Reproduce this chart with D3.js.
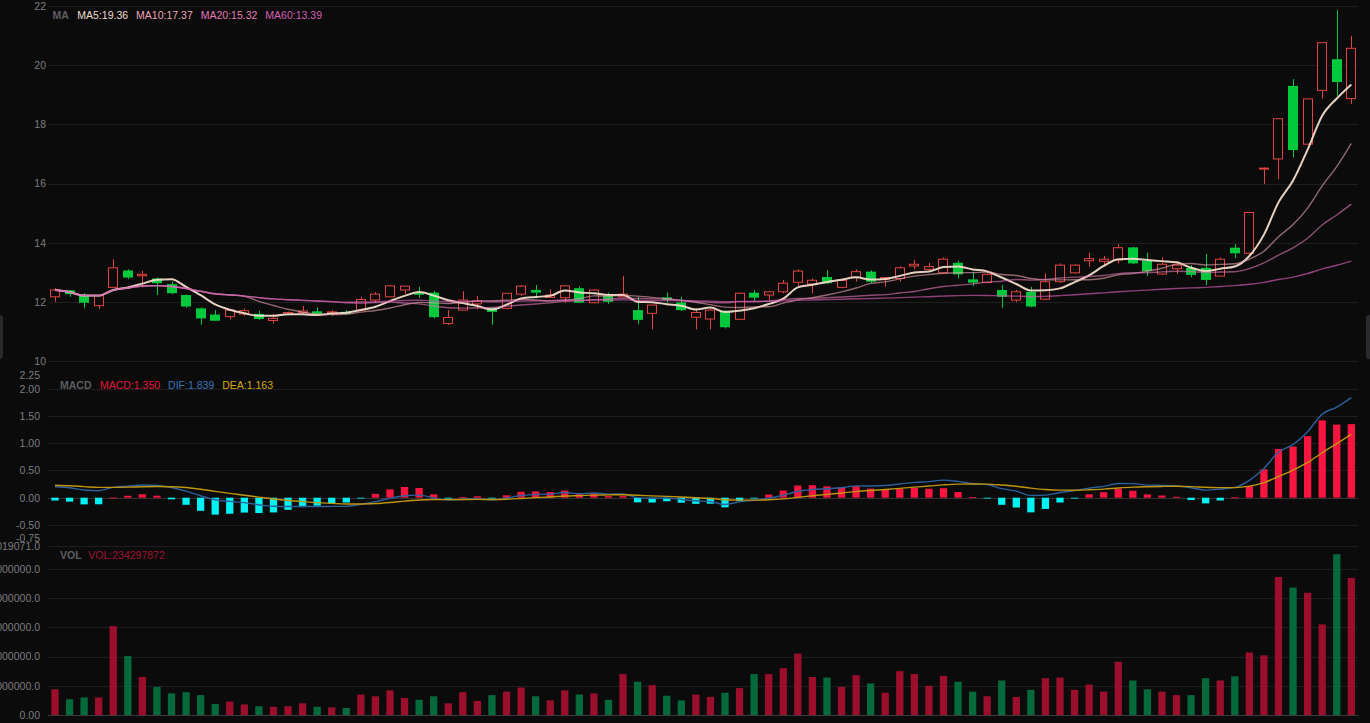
<!DOCTYPE html>
<html><head><meta charset="utf-8">
<script src="https://cdn.jsdelivr.net/npm/d3@7/dist/d3.min.js"></script>
<style>html,body{margin:0;padding:0;background:#0b0b0b;overflow:hidden}svg{display:block}</style>
</head><body><svg id="c" width="1370" height="723"></svg>
<script>
// ---- data ----
const opens  = [12.17,12.39,12.23,11.87,12.49,13.06,12.88,12.79,12.60,12.23,11.78,11.57,11.50,11.59,11.59,11.37,11.57,11.64,11.68,11.62,11.66,11.72,12.06,12.17,12.40,12.31,12.31,11.27,11.72,11.93,11.80,11.78,12.26,12.40,12.15,12.14,12.46,11.97,12.20,12.17,11.72,11.61,12.15,11.98,11.48,11.42,11.69,11.41,12.31,12.23,12.34,12.66,12.60,12.84,12.49,12.83,13.02,12.76,12.79,13.21,13.10,12.98,13.32,12.76,12.65,12.40,12.06,12.34,12.09,12.68,12.98,13.39,13.37,13.41,13.84,13.39,12.94,13.12,13.15,13.15,12.87,13.83,13.64,16.50,16.83,19.30,17.33,19.15,20.20,18.87];
const highs  = [12.46,12.40,12.29,12.22,13.44,13.10,13.05,12.82,12.68,12.25,11.81,11.72,11.72,11.78,11.70,11.59,11.67,11.86,11.81,11.72,11.72,12.17,12.33,12.57,12.53,12.51,12.36,11.72,12.36,12.20,11.80,12.30,12.57,12.57,12.42,12.56,12.52,12.42,12.31,12.87,12.17,11.89,12.31,12.17,11.78,11.76,11.72,12.31,12.40,12.37,12.74,13.10,12.79,13.07,12.76,13.10,13.07,12.82,13.21,13.41,13.32,13.50,13.39,13.02,12.96,12.57,12.40,12.51,12.96,13.30,13.27,13.66,13.55,13.95,13.86,13.66,13.50,13.36,13.24,13.62,13.50,13.95,15.02,16.55,18.20,19.53,18.86,20.76,21.86,20.99];
const lows   = [12.00,12.17,11.78,11.76,12.47,12.78,12.49,12.23,12.26,11.80,11.22,11.36,11.41,11.53,11.39,11.27,11.55,11.61,11.59,11.52,11.57,11.69,11.97,12.17,12.26,12.14,11.44,11.22,11.72,11.75,11.22,11.75,12.20,12.12,12.15,11.97,11.95,11.95,11.93,12.17,11.24,11.07,11.97,11.69,11.07,11.07,11.10,11.39,12.04,12.06,12.29,12.51,12.29,12.60,12.46,12.68,12.63,12.51,12.68,13.10,13.05,12.96,12.79,12.53,12.63,11.80,11.99,11.82,12.06,12.63,12.96,13.19,13.19,13.30,13.28,12.87,12.91,12.94,12.83,12.57,12.87,13.47,13.58,15.98,16.15,16.88,17.33,18.87,18.97,18.69];
const closes = [12.40,12.26,11.97,12.21,13.15,12.82,12.93,12.63,12.29,11.84,11.44,11.36,11.72,11.70,11.42,11.44,11.64,11.69,11.59,11.66,11.59,12.08,12.26,12.54,12.53,12.24,11.48,11.47,12.06,12.03,11.66,12.29,12.53,12.31,12.23,12.54,11.97,12.40,12.00,12.26,11.39,11.89,12.06,11.72,11.64,11.72,11.14,12.29,12.14,12.34,12.63,13.04,12.73,12.63,12.72,13.02,12.68,12.82,13.15,13.27,13.19,13.44,12.93,12.65,12.93,12.17,12.34,11.84,12.68,13.24,13.24,13.46,13.44,13.83,13.30,13.04,13.27,13.24,12.91,12.74,13.44,13.64,15.02,16.52,18.19,17.13,18.86,20.76,19.43,20.57];
const volumesM = [44,27,30,30,152,101,65,48,37,39,34,19,23,18,15,14,15,20,14,13,12,35,32,42,29,26,32,20,39,24,34,40,47,32,25,42,35,37,26,70,57,51,33,25,35,31,38,46,70,70,80,105,65,64,48,68,54,38,75,70,50,67,57,40,32,59,31,43,63,64,43,52,40,91,59,44,40,34,34,63,59,66,107,102,236,218,209,155,275,234.297872];

const priceTicks = [10,12,14,16,18,20,22];
const macdTicks = [-0.75,-0.5,0,0.5,1,1.5,2,2.25];
const macdTickLabels = ["-0.75","-0.50","0.00","0.50","1.00","1.50","2.00","2.25"];
const macdGridTicks = [-0.5,0,0.5,1,1.5,2];
const volTicks = [0,50000000,100000000,150000000,200000000,250000000,289019071];
const volTickLabels = ["0.00","50000000.0","100000000.0","150000000.0","200000000.0","250000000.0","289019071.0"];
const maPeriods = [5,10,20,60];
const maLegend = ["MA5:19.36","MA10:17.37","MA20:15.32","MA60:13.39"];
const macdLegend = ["MACD:1.350","DIF:1.839","DEA:1.163"];
const volLegend = ["VOL:234297872"];
const macdSeed = {ema12:12.30, ema26:12.09, dea:0.235};

// ---- styles ----
const BG="#0b0b0b", GRID="#1e1e20", AXIS_TXT="#7c7c80";
const UP="#e2443f", DOWN="#00c93c";
const VUP="#9c0f2c", VDOWN="#046a3b";
const MA_COLORS=["#f2dccb","#eda7b3","#e37ab6","#d65fb5"];
const MA_LINE_OP=[0.95,0.6,0.6,0.65];
const MA_W=[2,1.4,1.4,1.4];

const svg=d3.select("#c");
const N=closes.length;
const idx=d3.range(N);
const X0=47.7, X1=1358.6;
const x=d3.scaleBand().domain(idx).range([X0,X1]).padding(0);
const bw=x.bandwidth();
const cx=i=>x(i)+bw/2;

const yP=d3.scaleLinear().domain([10,22]).range([361,6]);
const yM=d3.scaleLinear().domain([-0.75,2.25]).range([538.5,375.3]);
const yV=d3.scaleLinear().domain([0,289019071]).range([715,546]);

svg.append("rect").attr("width",1370).attr("height",723).attr("fill",BG);

// grid
const g=svg.append("g");
function hgrid(scale,ticks,color){
  g.selectAll(null).data(ticks).enter().append("line")
   .attr("x1",48).attr("x2",1358)
   .attr("y1",d=>Math.round(scale(d))+0.5).attr("y2",d=>Math.round(scale(d))+0.5)
   .attr("stroke",color).attr("stroke-width",1);
}
hgrid(yP,priceTicks,GRID);
hgrid(yM,macdGridTicks,GRID);
hgrid(yV,volTicks.slice(1),GRID);
g.append("line").attr("x1",48).attr("x2",1358).attr("y1",Math.round(yV(0))+0.5).attr("y2",Math.round(yV(0))+0.5).attr("stroke","#3a3a3e");

// axes
const FONT="'Liberation Sans',Arial,sans-serif";
function axis(scale,ticks,labels,xr){
  const a=d3.axisLeft(scale).tickValues(ticks).tickSize(0).tickPadding(0)
    .tickFormat((d,i)=>labels[i]);
  const ag=svg.append("g").attr("transform",`translate(${xr},0)`).call(a);
  ag.select(".domain").remove();
  ag.selectAll("text").attr("fill",AXIS_TXT).attr("font-size","10.5px").attr("font-family",FONT);
}
axis(yP,priceTicks,priceTicks.map(String),46);
axis(yM,macdTicks,macdTickLabels,40);
axis(yV,volTicks,volTickLabels,40);

// ---- moving averages ----
function ma(p){return closes.map((c,i)=>{const s=Math.max(0,i-p+1);return d3.mean(closes.slice(s,i+1));});}
const maData=maPeriods.map(ma);
const line=d3.line().x((d,i)=>cx(i)).y(d=>yP(d)).curve(d3.curveMonotoneX);

// candles
const cg=svg.append("g");
const cw=Math.round(bw*0.7);
idx.forEach(i=>{
  const o=opens[i],c=closes[i],h=highs[i],l=lows[i];
  const up=c>=o;
  const xm=Math.round(cx(i))+0.5;
  const top=yP(Math.max(o,c)), bot=yP(Math.min(o,c));
  const bh=Math.max(1,bot-top);
  if(up){
    cg.append("line").attr("x1",xm).attr("x2",xm).attr("y1",yP(h)).attr("y2",top).attr("stroke",UP);
    cg.append("line").attr("x1",xm).attr("x2",xm).attr("y1",top+bh).attr("y2",yP(l)).attr("stroke",UP);
    cg.append("rect").attr("x",Math.round(cx(i)-cw/2)+0.5).attr("y",top).attr("width",cw-1).attr("height",bh)
      .attr("fill",BG).attr("stroke",UP).attr("stroke-width",1);
  }else{
    cg.append("line").attr("x1",xm).attr("x2",xm).attr("y1",yP(h)).attr("y2",yP(l)).attr("stroke",DOWN);
    cg.append("rect").attr("x",Math.round(cx(i)-cw/2)).attr("y",top).attr("width",cw).attr("height",bh).attr("fill",DOWN);
  }
});

maData.forEach((d,k)=>{
  svg.append("path").attr("d",line(d)).attr("fill","none").attr("stroke",MA_COLORS[k])
   .attr("stroke-width",MA_W[k]).attr("stroke-opacity",MA_LINE_OP[k]);
});

// ---- MACD ----
let e12=macdSeed.ema12,e26=macdSeed.ema26,dea=macdSeed.dea;
const dif=[],deaA=[],hist=[];
closes.forEach(c=>{
  e12=e12+(2/13)*(c-e12); e26=e26+(2/27)*(c-e26);
  const d=e12-e26; dea=dea+0.2*(d-dea);
  dif.push(d); deaA.push(dea); hist.push(2*(d-dea));
});
const mbw=bw*0.5;
svg.append("line").attr("x1",48).attr("x2",1358).attr("y1",Math.round(yM(0))+0.5).attr("y2",Math.round(yM(0))+0.5).attr("stroke","#303034");
svg.append("g").selectAll("rect").data(hist).enter().append("rect")
  .attr("x",(d,i)=>cx(i)-mbw/2).attr("width",mbw)
  .attr("y",d=>d>=0?yM(d):yM(0)).attr("height",d=>Math.max(0.8,Math.abs(yM(d)-yM(0))))
  .attr("fill",d=>d>=0?"#fa1540":"#00f2f2");
const ml=d3.line().x((d,i)=>cx(i)).y(d=>yM(d)).curve(d3.curveMonotoneX);
svg.append("path").attr("d",ml(dif)).attr("fill","none").attr("stroke","#2c5f9c").attr("stroke-width",1.4);
svg.append("path").attr("d",ml(deaA)).attr("fill","none").attr("stroke","#bf9510").attr("stroke-width",1.4);

// ---- volume ----
svg.append("g").selectAll("rect").data(volumesM).enter().append("rect")
  .attr("x",(d,i)=>cx(i)-mbw/2).attr("width",mbw)
  .attr("y",d=>yV(d*1e6)).attr("height",d=>yV(0)-yV(d*1e6))
  .attr("fill",(d,i)=>closes[i]>=opens[i]?VUP:VDOWN);

// ---- legends ----
function legend(y,title,items,colors,firstX){
  const lg=svg.append("g").attr("font-family",FONT).attr("font-size","10.5px");
  lg.append("text").attr("x",title==="MA"?52.5:60).attr("y",y).attr("fill","#5d5d62").attr("font-weight","bold").text(title);
  let xx=firstX;
  items.forEach((t,k)=>{
    const tx=lg.append("text").attr("x",xx).attr("y",y).attr("fill",colors[k]).text(t);
    xx+=tx.node().getComputedTextLength()+8;
  });
}
legend(18.5,"MA",maLegend,MA_COLORS,77.3);
legend(389,"MACD",macdLegend,["#e4163c","#3575bd","#d9a908"],100);
legend(559,"VOL",volLegend,["#a0122e"],88.3);

// small edge handles
svg.append("rect").attr("x",-4).attr("y",315).attr("width",7).attr("height",44).attr("rx",3).attr("fill","#2a2a2e");
svg.append("rect").attr("x",1366).attr("y",315).attr("width",8).attr("height",44).attr("rx",3).attr("fill","#2a2a2e");
</script>
</body></html>
